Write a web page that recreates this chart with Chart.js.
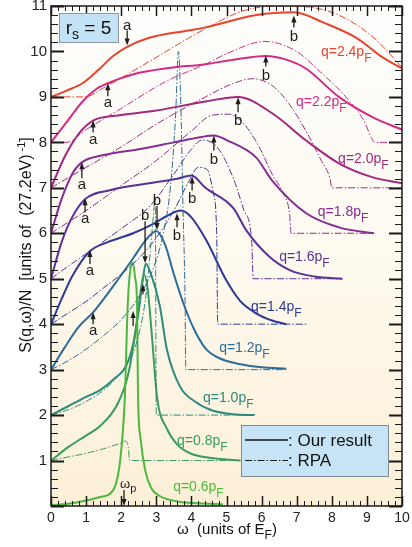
<!DOCTYPE html>
<html>
<head>
<meta charset="utf-8">
<script src="https://cdn.jsdelivr.net/npm/chart.js@4/dist/chart.umd.min.js"></script>
<style>
html, body { margin: 0; padding: 0; background: #fff; }
#wrap { width: 412px; height: 547px; }
</style>
</head>
<body>
<div id="wrap"><canvas id="sqw" width="412" height="547"></canvas></div>
<script>
// omega (units of E_F), S(q,omega)/N shifted by one unit per q
var qLabels = ['0.6', '0.8', '1.0', '1.2', '1.4', '1.6', '1.8', '2.0', '2.2', '2.4'];

var our06 = [[0,0.02],[0.5,0.05],[1.0,0.12],[1.4,0.2],[1.77,0.35],[1.97,1.0],[2.1,2.33],[2.19,4.5],[2.27,5.25],[2.33,5.35],[2.4,5.0],[2.45,4.5],[2.48,2.4],[2.55,1.5],[2.68,0.8],[2.85,0.4],[3.1,0.22],[3.6,0.1],[4.2,0.06],[4.9,0.04]];
var our08 = [[0,1],[0.5,1.3],[1.0,1.55],[1.4,1.76],[1.9,2.25],[2.2,2.9],[2.4,3.8],[2.55,4.7],[2.65,5.1],[2.75,4.8],[2.88,3.7],[3.02,2.4],[3.3,1.7],[3.6,1.35],[3.96,1.16],[4.5,1.06],[5.4,1.0]];
var our10 = [[0,2],[0.5,2.2],[1.0,2.4],[1.4,2.55],[1.8,2.8],[2.15,3.1],[2.35,3.6],[2.5,4.3],[2.62,5.0],[2.7,5.33],[2.85,5.1],[3.1,4.4],[3.3,3.45],[3.68,2.62],[4.1,2.3],[4.6,2.1],[5.2,2.02],[5.8,2.0]];
var our12 = [[0,3],[0.4,3.5],[0.8,3.95],[1.2,4.26],[1.4,4.45],[1.88,4.95],[2.34,5.45],[2.7,5.85],[3.0,6.05],[3.25,5.75],[3.5,5.1],[3.8,4.4],[4.1,3.85],[4.42,3.45],[4.8,3.25],[5.4,3.12],[6.0,3.05],[6.7,3.02]];
var our14 = [[0,4],[0.3,4.55],[0.6,5.05],[1.1,5.6],[1.6,5.8],[2.34,6.0],[2.9,6.2],[3.3,6.38],[3.7,6.5],[4.0,6.35],[4.42,5.85],[4.99,4.97],[5.4,4.5],[5.84,4.24],[6.3,4.08],[6.7,4.0]];
var our16 = [[0,5],[0.3,5.8],[0.6,6.35],[0.97,6.75],[1.7,6.95],[2.8,7.1],[3.6,7.2],[4.0,7.27],[4.4,7.0],[5.2,6.55],[5.56,6.07],[6.2,5.5],[6.8,5.19],[7.5,5.05],[8.3,5.0]];
var our18 = [[0,6],[0.3,6.75],[0.6,7.3],[0.88,7.56],[1.5,7.72],[2.5,7.85],[3.5,8.0],[4.3,8.12],[4.64,8.15],[5.0,8.05],[5.84,7.67],[6.3,7.16],[7.27,6.44],[8.2,6.13],[9.2,6.0]];
var our20 = [[0,7],[0.4,7.7],[0.8,8.2],[1.2,8.48],[2.0,8.6],[3.0,8.7],[4.4,8.9],[5.33,9.0],[6.3,8.64],[7.27,8.04],[8.2,7.54],[9.17,7.23],[10,7.1]];
var our22 = [[0,8.0],[0.45,8.45],[0.9,8.9],[1.3,9.18],[1.62,9.3],[2.35,9.5],[3.3,9.63],[4.4,9.72],[5.2,9.82],[6.12,9.9],[6.7,9.82],[7.27,9.62],[8.2,9.0],[9.17,8.55],[10,8.28]];
var our24 = [[0,9.0],[0.45,9.14],[0.9,9.3],[1.4,9.63],[1.77,9.9],[2.17,10.1],[2.8,10.3],[3.9,10.46],[4.4,10.53],[5.85,10.8],[6.92,10.86],[7.75,10.64],[8.7,10.3],[9.45,9.87],[10,9.63]];

var rpa08 = [[0,1],[0.5,1.08],[1.0,1.16],[1.5,1.26],[1.97,1.38],[2.12,1.43],[2.2,1.3],[2.24,1.0],[5.4,1.0]];
var rpa10 = [[0,2],[0.5,2.12],[1.0,2.3],[1.5,2.55],[2.0,2.95],[2.4,3.5],[2.7,4.6],[2.85,5.8],[2.93,6.5],[2.97,6.8],[3.0,2.0],[5.8,2.0]];
var rpa12 = [[0,3],[0.5,3.2],[1.0,3.45],[1.5,3.75],[2.0,4.1],[2.5,4.6],[2.9,5.2],[3.2,6.0],[3.4,7.0],[3.55,8.6],[3.63,10.0],[3.7,8.8],[3.76,6.6],[3.82,4.5],[3.84,3.0],[6.7,3.0]];
var rpa14 = [[0,4],[0.5,4.25],[1.0,4.5],[1.5,4.8],[2.0,5.1],[2.5,5.45],[3.0,5.9],[3.5,6.5],[3.9,7.1],[4.2,7.45],[4.45,7.4],[4.62,6.9],[4.72,6.0],[4.75,4.0],[7.3,4.0]];
var rpa16 = [[0,5],[0.5,5.28],[1.0,5.55],[2.0,6.1],[2.82,6.6],[3.5,7.3],[4.0,7.85],[4.3,8.05],[4.73,7.9],[5.2,7.2],[5.5,6.5],[5.72,5.8],[5.76,5.0],[8.3,5.0]];
var rpa18 = [[0,6],[1.0,6.5],[2.0,7.05],[3.0,7.6],[4.0,8.25],[4.6,8.6],[5.07,8.62],[5.5,8.4],[5.93,7.9],[6.3,7.3],[6.6,6.9],[6.8,6.4],[6.84,6.0],[9.2,6.0]];
var rpa20 = [[0,7],[1.0,7.45],[2.0,7.9],[3.0,8.4],[4.4,9.0],[5.2,9.3],[5.75,9.4],[6.3,9.25],[6.78,8.85],[7.3,8.2],[7.7,7.6],[7.95,7.2],[8.0,7.0],[10,7.0]];
var rpa22 = [[0,8],[0.44,8.0],[1.0,8.28],[1.9,8.7],[3.3,9.35],[4.4,9.72],[5.0,9.95],[6.1,10.22],[7.0,10.0],[7.6,9.6],[8.4,9.0],[8.9,8.5],[9.24,8.0],[10,8.0]];
var rpa24 = [[0,9],[0.96,9.0],[1.5,9.2],[2.8,9.78],[4.4,10.5],[5.5,10.9],[6.5,11.0],[7.3,10.98],[8.2,10.8],[9.2,10.3],[10,9.65]];

var ourCurves = [our06, our08, our10, our12, our14, our16, our18, our20, our22, our24];
var rpaCurves = [null, rpa08, rpa10, rpa12, rpa14, rpa16, rpa18, rpa20, rpa22, rpa24];
var curveColors = ['#4cb83e', '#3a9c5c', '#2c8a7e', '#2e6c98', '#2c3a94', '#5a3098', '#862c94', '#a2287e', '#d42a86', '#e8442c'];

// q label anchors: [omega, S] of the left end of the text baseline
var qLabelPos = [[3.48,0.33],[3.59,1.34],[4.33,2.29],[4.79,3.38],[5.7,4.29],[6.5,5.38],[7.6,6.37],[8.18,7.54],[6.98,8.81],[7.69,9.91]];

// feature arrows: [omega, S at the tip, direction, shaft length px, label]
var featureArrows = [
    [2.17, 10.13, 'down', 15, 'a'],
    [1.62, 9.3, 'up', 13, 'a'],
    [1.2, 8.48, 'up', 12, 'a'],
    [0.88, 7.56, 'up', 16, 'a'],
    [0.97, 6.77, 'up', 14, 'a'],
    [1.11, 5.63, 'up', 14, 'a'],
    [1.2, 4.26, 'up', 12, 'a'],
    [6.92, 10.79, 'up', 12, 'b'],
    [6.12, 9.91, 'up', 11, 'b'],
    [5.33, 8.99, 'up', 15, 'b'],
    [4.64, 8.15, 'up', 15, 'b'],
    [4.02, 7.25, 'up', 14, 'b'],
    [3.59, 6.44, 'up', 14, 'b'],
    [3.02, 6.07, 'down', 24, 'b'],
    [2.68, 5.34, 'down', 42, 'b'],
    [2.62, 4.88, 'up', 10, ''],
    [2.34, 4.29, 'up', 15, '']
];
var plasmonOmega = 2.08;

var FONT = '"Liberation Sans", Arial, Helvetica, sans-serif';

function toPoints(arr) {
    return arr.map(function (p) { return {x: p[0], y: p[1]}; });
}

function richText(ctx, parts, x, y, align) {
    var total = 0, i;
    for (i = 0; i < parts.length; i++) {
        ctx.font = parts[i][1] + 'px ' + FONT;
        total += ctx.measureText(parts[i][0]).width;
    }
    var cx = align === 'center' ? x - total / 2 : x;
    ctx.textAlign = 'left';
    for (i = 0; i < parts.length; i++) {
        ctx.font = parts[i][1] + 'px ' + FONT;
        ctx.fillText(parts[i][0], cx, y + parts[i][2]);
        cx += ctx.measureText(parts[i][0]).width;
    }
}

function drawArrow(ctx, x, yTip, len, dir) {
    var s = dir === 'up' ? 1 : -1;
    ctx.beginPath();
    ctx.moveTo(x, yTip + s * len);
    ctx.lineTo(x, yTip + s * 5);
    ctx.stroke();
    ctx.beginPath();
    ctx.moveTo(x, yTip);
    ctx.lineTo(x - 2.6, yTip + s * 7);
    ctx.lineTo(x + 2.6, yTip + s * 7);
    ctx.closePath();
    ctx.fill();
}

var decor = {
    id: 'decor',
    beforeDraw: function (chart) {
        var ctx = chart.ctx, a = chart.chartArea;
        ctx.save();
        ctx.fillStyle = '#ffffff';
        ctx.fillRect(0, 0, chart.width, chart.height);
        var g = ctx.createLinearGradient(0, a.top, 0, a.bottom);
        g.addColorStop(0, '#fffefc');
        g.addColorStop(0.5, '#fefaf0');
        g.addColorStop(1, '#fcefd6');
        ctx.fillStyle = g;
        ctx.fillRect(a.left, a.top, a.right - a.left, a.bottom - a.top);
        ctx.restore();
    },
    afterDatasetsDraw: function (chart) {
        var ctx = chart.ctx, a = chart.chartArea;
        var xs = chart.scales.x, ys = chart.scales.y;
        var v, p, len, i;
        ctx.save();

        // frame and inward ticks
        ctx.strokeStyle = '#1a1a1a';
        ctx.lineWidth = 1.5;
        ctx.strokeRect(a.left, a.top, a.right - a.left, a.bottom - a.top);
        for (i = 0; i <= 50; i++) {
            v = i / 5;
            p = Math.round(xs.getPixelForValue(v)) + 0.5;
            len = i % 5 === 0 ? 10 : 5;
            ctx.lineWidth = i % 5 === 0 ? 1.5 : 1;
            ctx.beginPath();
            ctx.moveTo(p, a.bottom); ctx.lineTo(p, a.bottom - len);
            ctx.moveTo(p, a.top); ctx.lineTo(p, a.top + len);
            ctx.stroke();
        }
        for (i = 0; i <= 55; i++) {
            v = i / 5;
            p = Math.round(ys.getPixelForValue(v)) + 0.5;
            len = i % 5 === 0 ? 13 : 7;
            ctx.lineWidth = i % 5 === 0 ? 2 : 1;
            ctx.beginPath();
            ctx.moveTo(a.left, p); ctx.lineTo(a.left + len, p);
            ctx.moveTo(a.right, p); ctx.lineTo(a.right - len, p);
            ctx.stroke();
        }

        // q labels
        ctx.textBaseline = 'alphabetic';
        for (i = 0; i < qLabels.length; i++) {
            ctx.fillStyle = curveColors[i];
            richText(ctx, [['q=' + qLabels[i] + 'p', 14, 0], ['F', 12, 6]],
                xs.getPixelForValue(qLabelPos[i][0]), ys.getPixelForValue(qLabelPos[i][1]), 'left');
        }

        // feature arrows a / b
        ctx.fillStyle = '#1e1e1e';
        ctx.strokeStyle = '#1e1e1e';
        ctx.lineWidth = 1.3;
        featureArrows.forEach(function (f) {
            var x = xs.getPixelForValue(f[0]), y = ys.getPixelForValue(f[1]);
            drawArrow(ctx, x, y, f[3], f[2]);
            if (f[4]) {
                ctx.font = '15px ' + FONT;
                ctx.textAlign = 'center';
                var by = f[2] === 'up' ? y + f[3] + (f[4] === 'a' ? 11 : 13) : y - f[3] - 1;
                ctx.fillText(f[4], x, by);
            }
        });

        // plasmon frequency marker
        var px = xs.getPixelForValue(plasmonOmega);
        drawArrow(ctx, px, a.bottom, 16, 'down');
        richText(ctx, [['\u03c9', 13, 0], ['p', 11, 4]], px - 4, a.bottom - 18, 'left');

        // r_s box
        ctx.fillStyle = '#c3e2f6';
        ctx.fillRect(59, 13, 59, 29);
        ctx.strokeStyle = '#8c9aa6';
        ctx.lineWidth = 1;
        ctx.strokeRect(59.5, 13.5, 59, 29);
        ctx.fillStyle = '#111';
        richText(ctx, [['r', 19, 0], ['s', 14, 5], [' = 5', 19, 0]], 88.5, 34, 'center');

        // legend box
        ctx.fillStyle = '#c6e4f6';
        ctx.fillRect(241, 425, 147, 51);
        ctx.strokeStyle = '#7d8a96';
        ctx.strokeRect(241.5, 425.5, 147, 51);
        ctx.strokeStyle = '#1a1a1a';
        ctx.lineWidth = 1.5;
        ctx.beginPath(); ctx.moveTo(245, 440); ctx.lineTo(288, 440); ctx.stroke();
        ctx.lineWidth = 1;
        ctx.setLineDash([7, 2, 1.5, 2]);
        ctx.beginPath(); ctx.moveTo(245, 460.5); ctx.lineTo(288, 460.5); ctx.stroke();
        ctx.setLineDash([]);
        ctx.fillStyle = '#111';
        ctx.font = '17px ' + FONT;
        ctx.textAlign = 'left';
        ctx.fillText(': Our result', 288, 446);
        ctx.fillText(': RPA', 288, 466);

        // axis titles
        ctx.fillStyle = '#111';
        richText(ctx, [['\u03c9  (units of E', 15, 0], ['F', 12, 5], [')', 15, 0]], 177, 534, 'left');
        ctx.translate(31, 245);
        ctx.rotate(-Math.PI / 2);
        richText(ctx, [['S(q,\u03c9)/N  [units of  (27.2eV)', 16, 0], [' -1', 11, -6], [']', 16, 0]], 0, 0, 'center');

        ctx.restore();
    }
};

var datasets = [];
rpaCurves.forEach(function (c, i) {
    if (!c) { return; }
    datasets.push({
        label: 'RPA q=' + qLabels[i],
        data: toPoints(c),
        borderColor: curveColors[i],
        borderWidth: 1,
        borderDash: [7, 2, 1.5, 2],
        pointRadius: 0,
        fill: false,
        cubicInterpolationMode: 'monotone'
    });
});
ourCurves.forEach(function (c, i) {
    datasets.push({
        label: 'Our result q=' + qLabels[i],
        data: toPoints(c),
        borderColor: curveColors[i],
        borderWidth: 2,
        pointRadius: 0,
        fill: false,
        cubicInterpolationMode: 'monotone'
    });
});

var ctx = document.getElementById('sqw');
var chart = new Chart(ctx, {
    type: 'line',
    data: {datasets: datasets},
    plugins: [decor],
    options: {
        responsive: false,
        animation: false,
        layout: {padding: {top: 6, right: 10, left: 0, bottom: 0}},
        plugins: {legend: {display: false}, tooltip: {enabled: false}},
        scales: {
            x: {
                type: 'linear', min: 0, max: 10,
                grid: {display: false, drawTicks: false},
                border: {display: false},
                ticks: {stepSize: 1, padding: 4, color: '#222', font: {size: 14, family: FONT}},
                afterFit: function (s) { s.height = 41; s.paddingLeft = 0; s.paddingRight = 0; }
            },
            y: {
                type: 'linear', min: 0, max: 11,
                grid: {display: false, drawTicks: false},
                border: {display: false},
                ticks: {
                    stepSize: 1, padding: 4, color: '#222', font: {size: 15, family: FONT},
                    callback: function (v) { return v === 0 ? '' : v; }
                },
                afterFit: function (s) { s.width = 51; s.paddingTop = 0; s.paddingBottom = 0; }
            }
        }
    }
});
</script>
</body>
</html>
